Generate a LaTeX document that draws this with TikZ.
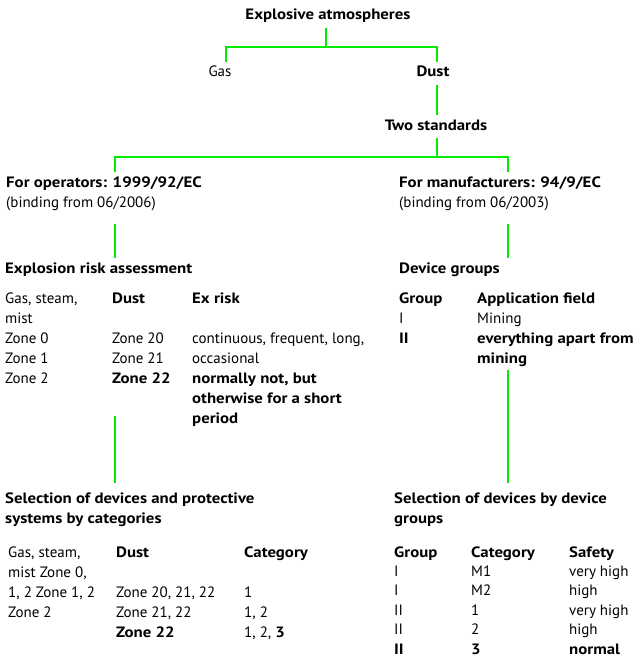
\documentclass[tikz,border=0pt]{standalone}
\usepackage{fontspec}
\setmainfont{PT Sans}[BoldFeatures={FakeStretch=1.12}]
\usepackage{array}
\usetikzlibrary{positioning}
\definecolor{treegreen}{RGB}{0,235,0}
\newcommand{\tblfont}{\fontsize{15}{20}\selectfont}
\tikzset{
	link/.style={draw=treegreen, line width=2pt},
	head/.style={anchor=base west, inner sep=0pt, font=\tblfont\bfseries},
	plain/.style={anchor=base west, inner sep=0pt, font=\tblfont},
	tbl/.style={anchor=base west, inner sep=0pt, text height=, text depth=},
}

\begin{document}
\begin{tikzpicture}[x=1pt, y=-1pt, font=\tblfont,
	every node/.append style={text height=11pt, text depth=4pt}]
	\useasboundingbox (0,0) rectangle (638,658);
	% top of the tree
	\node[head, anchor=base, inner ysep=4pt] (explo) at (328,20) {Explosive atmospheres};
	\node[plain, anchor=base, inner ysep=4pt] (gas) at (220,77) {Gas};
	\node[head, anchor=base, inner ysep=4pt] (dust) at (433,77) {Dust};
	\node[head, anchor=base, inner ysep=4pt] (twostd) at (436,130) {Two standards};
	\coordinate (split) at (326,47);
	\draw[link] (explo.south -| split) -- (split) -| (gas.north -| 226,0);
	\draw[link] (split) -| (dust.north -| 437,0);
	\draw[link] (dust.south -| 437,0) -- (twostd.north -| 437,0);
	% the two directives
	\node[head, inner ysep=4pt] (oper) at (6,187) {For operators: 1999/92/EC};
	\node[plain, text depth=13pt, inner ysep=4pt] (operdate) at (6,207) {(binding from 06/2006)};
	\node[head, inner ysep=4pt] (manu) at (399,187) {For manufacturers: 94/9/EC};
	\node[plain, text depth=13pt, inner ysep=4pt] (manudate) at (399,207) {(binding from 06/2003)};
	\coordinate (lspine) at (115,0);
	\coordinate (rspine) at (508,0);
	\draw[link] (twostd.south -| 437,0) -- (437,157) coordinate (fork)
		-| (oper.north -| lspine);
	\draw[link] (fork) -| (manu.north -| rspine);
	% left column
	\node[head, inner ysep=4pt] (risk) at (5,273) {Explosion risk assessment};
	\node[tbl] (risktab) at (5,303) {\tblfont
		\begin{tabular}[t]{@{}p{107pt}@{}p{80pt}@{}l@{}}
		Gas, steam, & \textbf{Dust} & \textbf{Ex risk}\\
		mist & & \\
		Zone 0 & Zone 20 & continuous, frequent, long,\\
		Zone 1 & Zone 21 & occasional\\
		Zone 2 & \textbf{Zone 22} & \textbf{normally not, but}\\
		& & \textbf{otherwise for a short}\\
		& & \textbf{period}
		\end{tabular}};
	\coordinate (riskend) at (115,416);
	\draw[link] (operdate.south -| lspine) -- (risk.north -| lspine);
	\node[head, align=left, text height=, text depth=] (selcat) at (5,523)
		{Selection of devices and protective\\systems by categories};
	\draw[link] (riskend) -- ([yshift=9pt]selcat.north -| lspine);
	\node[tbl] (cattab) at (8,557) {\tblfont
		\begin{tabular}[t]{@{}p{108pt}@{}p{128pt}@{}l@{}}
		Gas, steam, & \textbf{Dust} & \textbf{Category}\\
		mist Zone 0, & & \\
		1, 2 Zone 1, 2 & Zone 20, 21, 22 & 1\\
		Zone 2 & Zone 21, 22 & 1, 2\\
		& \textbf{Zone 22} & 1, 2, \textbf{3}
		\end{tabular}};
	% right column
	\node[head, inner ysep=4pt] (devgrp) at (399,273) {Device groups};
	\draw[link] (manudate.south -| rspine) -- (devgrp.north -| rspine);
	\node[tbl] (grptab) at (399,303) {\tblfont
		\begin{tabular}[t]{@{}p{78pt}@{}l@{}}
		\textbf{Group} & \textbf{Application field}\\
		I & Mining\\
		\textbf{II} & \textbf{everything apart from}\\
		& \textbf{mining}
		\end{tabular}};
	\coordinate (grpend) at (508,370);
	\node[head, align=left, text height=, text depth=] (selgrp) at (394,523)
		{Selection of devices by device\\groups};
	\draw[link] (grpend) -- ([yshift=9pt]selgrp.north -| rspine);
	\node[tbl] (devtab) at (394,557) {\fontsize{15}{19.4}\selectfont
		\begin{tabular}[t]{@{}p{77pt}@{}p{98pt}@{}l@{}}
		\textbf{Group} & \textbf{Category} & \textbf{Safety}\\
		I & M1 & very high\\
		I & M2 & high\\
		II & 1 & very high\\
		II & 2 & high\\
		\textbf{II} & \textbf{3} & \textbf{normal}
		\end{tabular}};
\end{tikzpicture}
\end{document}
